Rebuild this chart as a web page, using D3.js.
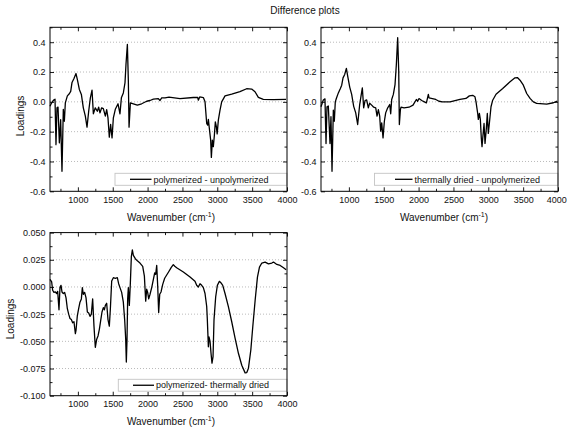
<!DOCTYPE html>
<html>
<head>
<meta charset="utf-8">
<script src="https://cdn.jsdelivr.net/npm/d3@7"></script>
<style>
  html, body { margin: 0; padding: 0; background: #fff; }
  svg { display: block; font-family: "Liberation Sans", Arial, sans-serif; }
</style>
</head>
<body>
<svg id="chart" width="567" height="431"></svg>
<script>
// Loadings of the difference spectra, [wavenumber (cm-1), loading]
const polyMinusUnpoly = [
  [600,-0.03],[620,-0.01],[648,0.01],[672,0.018],[686,-0.287],[700,-0.04],[715,-0.035],
  [734,-0.275],[753,-0.12],[772,-0.466],[791,-0.05],[806,-0.13],[820,-0.007],[849,0.04],
  [877,0.054],[897,0.07],[916,0.13],[944,0.157],[973,0.19],[992,0.15],[1021,0.083],
  [1050,0.05],[1078,-0.04],[1107,-0.096],[1131,-0.17],[1155,-0.063],[1179,0.027],
  [1203,0.078],[1222,-0.08],[1250,-0.04],[1279,-0.063],[1298,-0.036],[1317,-0.074],
  [1341,-0.04],[1365,-0.045],[1394,-0.096],[1413,-0.052],[1432,-0.108],[1451,-0.237],
  [1470,-0.152],[1490,-0.242],[1509,-0.107],[1537,-0.05],[1576,-0.013],[1604,-0.08],
  [1624,0.027],[1652,0.06],[1676,0.128],[1690,0.25],[1710,0.385],[1724,0.14],[1734,-0.17],
  [1753,-0.007],[1796,-0.013],[1853,-0.022],[1915,-0.013],[1987,0.004],[2035,0.009],
  [2083,0.018],[2154,0.022],[2178,0.009],[2202,0.027],[2250,0.027],[2307,0.031],
  [2465,0.022],[2656,0.029],[2719,0.029],[2728,0.011],[2748,0.033],[2800,0.029],
  [2824,0.0],[2848,-0.145],[2862,-0.156],[2872,-0.118],[2886,-0.179],[2905,-0.257],
  [2915,-0.373],[2929,-0.257],[2943,-0.3],[2958,-0.224],[2972,-0.134],[2987,-0.168],
  [2998,-0.215],[3015,-0.123],[3039,-0.056],[3063,0.0],[3111,0.04],[3207,0.051],
  [3325,0.068],[3421,0.088],[3493,0.086],[3541,0.068],[3589,0.03],
  [3660,0.017],[3804,0.015],[3986,0.017]
];

const driedMinusUnpoly = [
  [600,-0.033],[633,0.012],[657,0.02],[672,-0.28],[686,-0.033],[705,-0.028],[729,-0.28],
  [743,-0.1],[758,-0.466],[777,-0.055],[791,-0.13],[805,0.0],[820,0.022],[849,0.06],
  [878,0.09],[897,0.112],[916,0.161],[940,0.184],[964,0.224],[983,0.172],[1012,0.099],
  [1040,0.05],[1069,-0.03],[1098,-0.074],[1126,-0.152],[1155,-0.018],[1174,0.038],
  [1193,0.094],[1212,-0.04],[1232,0.009],[1255,0.013],[1279,-0.04],[1298,-0.009],
  [1327,-0.022],[1356,-0.036],[1385,-0.04],[1404,-0.096],[1423,-0.052],[1442,-0.096],
  [1456,-0.197],[1471,-0.141],[1490,-0.242],[1509,-0.13],[1528,-0.074],[1557,-0.04],
  [1586,-0.018],[1600,-0.08],[1614,0.016],[1638,0.05],[1662,0.116],[1681,0.25],
  [1700,0.43],[1715,0.206],[1724,-0.152],[1739,-0.052],[1748,-0.036],[1791,-0.04],
  [1863,-0.036],[1920,-0.022],[1968,0.016],[1987,0.004],[2006,0.022],[2045,0.009],
  [2083,0.0],[2112,-0.007],[2140,0.05],[2150,0.027],[2198,0.022],[2246,0.016],
  [2293,0.004],[2341,0.0],[2451,0.0],[2594,0.016],[2680,0.023],[2728,0.04],[2776,0.044],
  [2809,0.034],[2824,0.0],[2848,-0.078],[2857,-0.118],[2872,-0.078],[2886,-0.118],
  [2900,-0.245],[2910,-0.301],[2924,-0.223],[2939,-0.145],[2953,-0.279],[2972,-0.178],
  [2986,-0.078],[3000,-0.212],[3015,-0.145],[3039,-0.033],[3063,0.011],[3111,0.051],
  [3207,0.089],[3312,0.135],[3383,0.161],[3417,0.163],[3455,0.145],[3503,0.112],
  [3551,0.056],[3599,0.023],[3646,0.0],[3694,-0.01],[3838,-0.015],[3934,-0.006],
  [3990,0.005]
];

const polyMinusDried = [
  [600,0.007],[624,0.0046],[638,-0.003],[657,-0.005],[677,-0.0046],[696,-0.006],
  [710,-0.004],[729,-0.021],[743,-0.0006],[758,0.0015],[772,-0.0046],[791,-0.006],
  [810,-0.005],[830,-0.01],[849,-0.02],[868,-0.025],[887,-0.029],[906,-0.03],
  [925,-0.033],[944,-0.032],[964,-0.043],[973,-0.04],[992,-0.0265],[1011,-0.02],
  [1030,-0.014],[1050,-0.011],[1064,-0.0006],[1078,-0.0067],[1097,-0.005],[1117,-0.01],
  [1136,-0.023],[1155,-0.024],[1174,-0.027],[1193,-0.025],[1212,-0.011],[1231,-0.036],
  [1250,-0.0555],[1270,-0.048],[1289,-0.045],[1308,-0.039],[1327,-0.031],[1346,-0.023],
  [1365,-0.019],[1380,-0.021],[1394,-0.017],[1413,-0.015],[1432,-0.03],[1451,-0.036],
  [1466,-0.02],[1485,0.0055],[1509,0.0085],[1537,0.008],[1566,0.0085],[1585,0.003],
  [1604,-0.0006],[1628,-0.005],[1652,-0.014],[1671,-0.03],[1686,-0.048],[1695,-0.069],
  [1705,-0.048],[1714,-0.011],[1724,-0.0006],[1738,-0.017],[1753,0.004],[1767,0.028],
  [1781,0.034],[1796,0.029],[1824,0.026],[1853,0.024],[1891,0.022],[1930,0.019],
  [1954,0.01],[1973,-0.013],[1987,-0.002],[2001,-0.005],[2016,-0.011],[2035,-0.0067],
  [2059,-0.0006],[2083,0.007],[2102,0.013],[2116,0.0116],[2131,0.0198],[2145,0.0009],
  [2159,-0.0235],[2174,-0.0067],[2193,-0.0046],[2217,0.0024],[2245,0.008],[2274,0.011],
  [2303,0.014],[2340,0.018],[2369,0.0205],[2390,0.019],[2417,0.0177],[2513,0.0137],
  [2609,0.0091],[2680,0.0052],[2704,0.0015],[2728,0.0],[2752,0.003],[2776,0.0015],
  [2800,-0.0006],[2824,-0.006],[2848,-0.018],[2857,-0.03],[2872,-0.055],[2881,-0.046],
  [2896,-0.05],[2910,-0.061],[2924,-0.07],[2939,-0.064],[2953,-0.03],[2977,-0.009],
  [3001,0.0015],[3030,0.0052],[3054,0.0037],[3078,0.0015],[3111,-0.006],[3159,-0.018],
  [3207,-0.032],[3255,-0.047],[3303,-0.061],[3351,-0.072],[3399,-0.079],[3423,-0.0787],
  [3447,-0.0747],[3481,-0.058],[3509,-0.0366],[3543,-0.0122],[3576,0.0091],[3605,0.0183],
  [3639,0.022],[3686,0.0229],[3734,0.0213],[3782,0.022],[3806,0.0229],[3854,0.0207],
  [3902,0.0198],[3950,0.0177],[3988,0.0159]
];

const legendLabels = ["polymerized - unpolymerized", "thermally dried - unpolymerized", "polymerized- thermally dried"];
const xMajorTicks = [1000, 1500, 2000, 2500, 3000, 3500, 4000];
const xMinorTicks = [750, 1250, 1750, 2250, 2750, 3250, 3750];
const yTicksLarge = [-0.6, -0.4, -0.2, 0.0, 0.2, 0.4];
const yMinorLarge = [-0.5, -0.3, -0.1, 0.1, 0.3, 0.5];
const yTicksSmall = [-0.1, -0.075, -0.05, -0.025, 0.0, 0.025, 0.05];
const yMinorSmall = [-0.0875, -0.0625, -0.0375, -0.0125, 0.0125, 0.0375];
const titleText = "Difference plots";
const yTitle = "Loadings";

const svg = d3.select("#chart");

// fixed-decimal labels with a plain hyphen for negatives
const fmt = digits => v => (Math.abs(v) < 1e-9 ? 0 : v).toFixed(digits);

const panels = [
  { data: polyMinusUnpoly, legend: legendLabels[0], left: 50, right: 287, top: 27.3, bottom: 191.3,
    yDomain: [-0.6, 0.5], yTicks: yTicksLarge, yMinor: yMinorLarge, yFmt: fmt(1),
    yTitle: { x: 20, y: 116 }, xTitle: { x: 171, y: 221 }, lastLabelShift: 0,
    leg: { x0: 115, x1: 287, y0: 173.3, y1: 185.3, l0: 130, l1: 151.5, tx: 153.5 } },
  { data: driedMinusUnpoly, legend: legendLabels[1], left: 321, right: 558, top: 27.3, bottom: 191.3,
    yDomain: [-0.6, 0.5], yTicks: yTicksLarge, yMinor: yMinorLarge, yFmt: fmt(1),
    yTitle: null, xTitle: { x: 444, y: 221 }, lastLabelShift: -1.8,
    leg: { x0: 374.5, x1: 558, y0: 173.3, y1: 185.3, l0: 395, l1: 412.5, tx: 414.5 } },
  { data: polyMinusDried, legend: legendLabels[2], left: 50, right: 287, top: 232.6, bottom: 395.7,
    yDomain: [-0.1, 0.05], yTicks: yTicksSmall, yMinor: yMinorSmall, yFmt: fmt(3),
    yTitle: { x: 10, y: 319 }, xTitle: { x: 171, y: 425 }, lastLabelShift: 0,
    leg: { x0: 118.3, x1: 287, y0: 379.3, y1: 391.2, l0: 133, l1: 154, tx: 156 } }
];

svg.append("text")
  .attr("x", 305).attr("y", 14)
  .attr("text-anchor", "middle")
  .attr("font-size", 10)
  .attr("fill", "#111")
  .text(titleText);

panels.forEach(p => {
  const x = d3.scaleLinear().domain([600, 4000]).range([p.left, p.right]);
  const y = d3.scaleLinear().domain(p.yDomain).range([p.bottom, p.top]);
  const g = svg.append("g");

  // dotted horizontal grid at the inner major ticks
  g.append("g").selectAll("line")
    .data(p.yTicks.filter(v => v > p.yDomain[0] + 1e-9 && v < p.yDomain[1] - 1e-9))
    .join("line")
    .attr("x1", p.left).attr("x2", p.right)
    .attr("y1", d => y(d)).attr("y2", d => y(d))
    .attr("stroke", "#a8a8a8").attr("stroke-width", 0.8)
    .attr("stroke-dasharray", "1,2");

  // spectrum
  g.append("path")
    .datum(p.data)
    .attr("fill", "none")
    .attr("stroke", "#000")
    .attr("stroke-width", 1.3)
    .attr("stroke-linejoin", "round")
    .attr("d", d3.line().x(d => x(d[0])).y(d => y(d[1])));

  // axes with inward ticks on all four sides
  const styleAxis = sel => {
    sel.select(".domain").remove();
    sel.selectAll(".tick line").attr("stroke", "#000").attr("stroke-width", 0.9);
    sel.selectAll("text").attr("fill", "#111").attr("font-size", 9)
      .attr("font-family", "'Liberation Sans', Arial, sans-serif");
  };
  const bottomG = g.append("g").attr("transform", `translate(0,${p.bottom})`)
    .call(d3.axisBottom(x).tickValues(xMajorTicks).tickFormat(d3.format("d"))
      .tickSizeInner(-4).tickSizeOuter(0).tickPadding(5)).call(styleAxis);
  // keep the right-most label inside the page
  bottomG.selectAll(".tick text").filter(d => d === 4000).attr("x", p.lastLabelShift);

  g.append("g").attr("transform", `translate(0,${p.bottom})`)
    .call(d3.axisBottom(x).tickValues(xMinorTicks).tickFormat("")
      .tickSizeInner(-2.5).tickSizeOuter(0)).call(styleAxis);
  g.append("g").attr("transform", `translate(0,${p.top})`)
    .call(d3.axisTop(x).tickValues(xMajorTicks).tickFormat("")
      .tickSizeInner(-4).tickSizeOuter(0)).call(styleAxis);
  g.append("g").attr("transform", `translate(0,${p.top})`)
    .call(d3.axisTop(x).tickValues(xMinorTicks).tickFormat("")
      .tickSizeInner(-2.5).tickSizeOuter(0)).call(styleAxis);

  g.append("g").attr("transform", `translate(${p.left},0)`)
    .call(d3.axisLeft(y).tickValues(p.yTicks).tickFormat(p.yFmt)
      .tickSizeInner(-4).tickSizeOuter(0).tickPadding(4.5)).call(styleAxis);
  g.append("g").attr("transform", `translate(${p.left},0)`)
    .call(d3.axisLeft(y).tickValues(p.yMinor).tickFormat("")
      .tickSizeInner(-2.5).tickSizeOuter(0)).call(styleAxis);
  g.append("g").attr("transform", `translate(${p.right},0)`)
    .call(d3.axisRight(y).tickValues(p.yTicks).tickFormat("")
      .tickSizeInner(-4).tickSizeOuter(0)).call(styleAxis);
  g.append("g").attr("transform", `translate(${p.right},0)`)
    .call(d3.axisRight(y).tickValues(p.yMinor).tickFormat("")
      .tickSizeInner(-2.5).tickSizeOuter(0)).call(styleAxis);

  // legend box
  g.append("rect")
    .attr("x", p.leg.x0).attr("y", p.leg.y0)
    .attr("width", p.leg.x1 - p.leg.x0).attr("height", p.leg.y1 - p.leg.y0)
    .attr("fill", "#fff").attr("stroke", "#c4c4c4").attr("stroke-width", 0.9);
  const ly = (p.leg.y0 + p.leg.y1) / 2;
  g.append("line")
    .attr("x1", p.leg.l0).attr("x2", p.leg.l1).attr("y1", ly).attr("y2", ly)
    .attr("stroke", "#000").attr("stroke-width", 1.3);
  g.append("text")
    .attr("x", p.leg.tx).attr("y", ly + 3.2)
    .attr("font-size", 9).attr("fill", "#111")
    .text(p.legend);

  // plot frame
  g.append("rect")
    .attr("x", p.left).attr("y", p.top)
    .attr("width", p.right - p.left).attr("height", p.bottom - p.top)
    .attr("fill", "none").attr("stroke", "#000").attr("stroke-width", 1);

  // axis titles
  const xt = g.append("text")
    .attr("x", p.xTitle.x).attr("y", p.xTitle.y)
    .attr("text-anchor", "middle").attr("font-size", 10).attr("fill", "#111");
  xt.append("tspan").text("Wavenumber (cm");
  xt.append("tspan").attr("font-size", 7).attr("dy", -4).text("-1");
  xt.append("tspan").attr("dy", 4).text(")");

  if (p.yTitle) {
    g.append("text")
      .attr("transform", `translate(${p.yTitle.x},${p.yTitle.y}) rotate(-90)`)
      .attr("text-anchor", "middle").attr("dy", "0.35em")
      .attr("font-size", 10).attr("fill", "#111")
      .text(yTitle);
  }
});
</script>
</body>
</html>
